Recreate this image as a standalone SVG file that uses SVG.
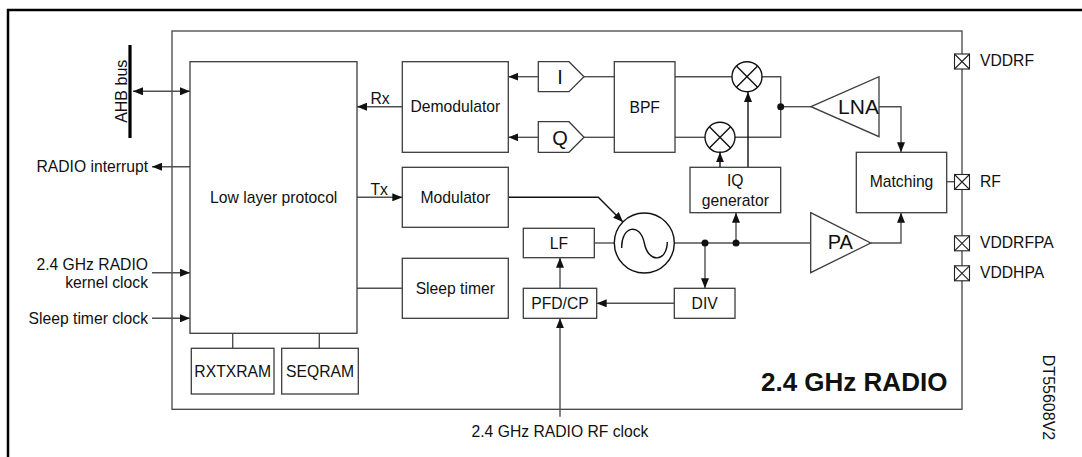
<svg xmlns="http://www.w3.org/2000/svg" width="1082" height="457" viewBox="0 0 1082 457">
<style>
text{font-family:"Liberation Sans",Arial,sans-serif;font-size:15.7px;fill:#111}
.box{fill:#fff;stroke:#3c3c3c;stroke-width:1.3}
.ln{fill:none;stroke:#505050;stroke-width:1.4}
.blk{fill:none;stroke:#111;stroke-width:1.4}
.mid{text-anchor:middle}
.end{text-anchor:end}
.big{font-size:21px}
.pad{fill:#fff;stroke:#222;stroke-width:1.1}
.dot{fill:#111}
</style>
<defs>
<marker id="ah" viewBox="0 0 10 8" refX="10" refY="4" markerWidth="10" markerHeight="8" markerUnits="userSpaceOnUse" orient="auto-start-reverse">
<path d="M0,0 L10,4 L0,8 z" fill="#111"/>
</marker>
<g id="padshape"><rect x="-7.5" y="-7.5" width="15" height="15" class="pad"/><path d="M-7.5,-7.5 L7.5,7.5 M7.5,-7.5 L-7.5,7.5" stroke="#222" stroke-width="1.1"/></g>
<g id="mixshape"><circle r="15" fill="#fff" stroke="#111" stroke-width="1.4"/><path d="M-10.6,-10.6 L10.6,10.6 M10.6,-10.6 L-10.6,10.6" stroke="#111" stroke-width="1.4"/></g>
</defs>
<rect x="0" y="0" width="1082" height="457" fill="#fff"/>
<!-- outer frame -->
<rect x="8" y="10" width="1100" height="500" fill="none" stroke="#000" stroke-width="2.5"/>
<!-- radio block frame -->
<g id="radio">
<rect x="172" y="31" width="790" height="378.3" fill="none" stroke="#444" stroke-width="1.3"/>
<text x="761" y="390.5" style="font-size:26px;font-weight:bold">2.4 GHz RADIO</text>
</g>
<text transform="translate(1043,397.5) rotate(90)" class="mid" style="font-size:16px">DT55608V2</text>

<g id="connectors">
<line x1="133" y1="91.3" x2="190" y2="91.3" class="ln" marker-start="url(#ah)" marker-end="url(#ah)"/>
<line x1="402.3" y1="106.7" x2="357" y2="106.7" class="ln" marker-end="url(#ah)"/>
<line x1="190" y1="166.7" x2="152" y2="166.7" class="ln" marker-end="url(#ah)"/>
<line x1="357" y1="197.3" x2="402.3" y2="197.3" class="ln" marker-end="url(#ah)"/>
<line x1="152" y1="272.7" x2="190" y2="272.7" class="ln" marker-end="url(#ah)"/>
<line x1="152" y1="318.3" x2="190" y2="318.3" class="ln" marker-end="url(#ah)"/>
<line x1="232.7" y1="333.3" x2="232.7" y2="348.3" class="ln"/>
<line x1="319.3" y1="333.3" x2="319.3" y2="348.3" class="ln"/>
<line x1="357" y1="288.3" x2="402.3" y2="288.3" class="ln"/>
<line x1="538.3" y1="76.7" x2="508.3" y2="76.7" class="ln" marker-end="url(#ah)"/>
<line x1="538.3" y1="137.3" x2="508.3" y2="137.3" class="ln" marker-end="url(#ah)"/>
<line x1="584" y1="76.7" x2="614.3" y2="76.7" class="ln"/>
<line x1="584" y1="137.3" x2="614.3" y2="137.3" class="ln"/>
<line x1="675" y1="76.7" x2="732" y2="76.7" class="ln"/>
<line x1="675" y1="137.3" x2="705" y2="137.3" class="ln"/>
<polyline points="762,76.7 780.7,76.7 780.7,137.3 735,137.3" class="ln"/>
<line x1="780.7" y1="106.7" x2="811" y2="106.7" class="ln"/>
<line x1="748" y1="167.3" x2="748" y2="92" class="blk" marker-end="url(#ah)"/>
<line x1="720" y1="167.3" x2="720" y2="152.3" class="blk" marker-end="url(#ah)"/>
<polyline points="879,106.7 901,106.7 901,152.3" class="ln" marker-end="url(#ah)"/>
<polyline points="870.7,243 901,243 901,212.7" class="ln" marker-end="url(#ah)"/>
<line x1="946.7" y1="181.7" x2="954.5" y2="181.7" class="ln"/>
<polyline points="508.3,197.3 598.3,197.3 623,222" class="blk" marker-end="url(#ah)"/>
<line x1="594.3" y1="243" x2="614" y2="243" class="ln"/>
<line x1="674.7" y1="243" x2="810.7" y2="243" class="ln"/>
<line x1="705" y1="243" x2="705" y2="288.3" class="ln" marker-end="url(#ah)"/>
<line x1="736" y1="243" x2="736" y2="212.7" class="ln" marker-end="url(#ah)"/>
<line x1="674.3" y1="303.3" x2="596.7" y2="303.3" class="ln" marker-end="url(#ah)"/>
<line x1="560" y1="288.3" x2="560" y2="257.7" class="ln" marker-end="url(#ah)"/>
<line x1="560" y1="416.7" x2="560" y2="318.3" class="ln" marker-end="url(#ah)"/>
<circle cx="780.7" cy="106.7" r="3.5" class="dot"/>
<circle cx="705" cy="243" r="3.5" class="dot"/>
<circle cx="736" cy="243" r="3.5" class="dot"/>
<text x="370.5" y="104">Rx</text>
<text x="370.5" y="195">Tx</text>
</g>

<g id="ahb">
<line x1="130" y1="45" x2="130" y2="138" stroke="#000" stroke-width="3.2"/>
<text transform="translate(127.3,91.3) rotate(-90)" class="mid" style="font-size:16px">AHB bus</text>
</g>
<g id="lbl-interrupt"><text x="148" y="172" class="end">RADIO interrupt</text></g>
<g id="lbl-kernel"><text x="148" y="269.5" class="end">2.4 GHz RADIO</text><text x="148" y="287.7" class="end">kernel clock</text></g>
<g id="lbl-sleepclk"><text x="148" y="323.5" class="end">Sleep timer clock</text></g>
<g id="lbl-rfclk"><text x="560" y="437" class="mid">2.4 GHz RADIO RF clock</text></g>

<g id="llp"><rect x="190" y="61.7" width="167" height="271.6" class="box"/><text x="273.7" y="203" class="mid">Low layer protocol</text></g>
<g id="rxtxram"><rect x="191.3" y="348.3" width="82.7" height="45.7" class="box"/><text x="232.7" y="376.8" class="mid">RXTXRAM</text></g>
<g id="seqram"><rect x="281.7" y="348.3" width="76.6" height="45.7" class="box"/><text x="320" y="376.8" class="mid">SEQRAM</text></g>
<g id="demod"><rect x="402.3" y="61.7" width="106" height="90.6" class="box"/><text x="455.3" y="112.3" class="mid">Demodulator</text></g>
<g id="mod"><rect x="402.3" y="167.3" width="106" height="60" class="box"/><text x="455.3" y="202.5" class="mid">Modulator</text></g>
<g id="sleeptimer"><rect x="402.3" y="258.3" width="106" height="60" class="box"/><text x="455.3" y="293.5" class="mid">Sleep timer</text></g>
<g id="adc-i"><path d="M538.3,61.7 H569 L584,76.7 L569,91.7 H538.3 Z" class="box"/><text x="560" y="84" class="mid" style="font-size:20px">I</text></g>
<g id="adc-q"><path d="M538.3,121.7 H569 L584,137.3 L569,152.3 H538.3 Z" class="box"/><text x="560" y="144.5" class="mid" style="font-size:20px">Q</text></g>
<g id="bpf"><rect x="614.3" y="61.7" width="60.7" height="90.6" class="box"/><text x="644.7" y="112.5" class="mid">BPF</text></g>
<g id="mixer-i"><use href="#mixshape" x="747" y="76.7"/></g>
<g id="mixer-q"><use href="#mixshape" x="720" y="137.3"/></g>
<g id="iqgen"><rect x="690" y="167.3" width="90.7" height="45.4" class="box"/><text x="735.3" y="185.5" class="mid">IQ</text><text x="735.3" y="205.5" class="mid">generator</text></g>
<g id="lna"><path d="M811,106.7 L879,76.7 L879,136.7 Z" class="box"/><text x="858.5" y="113.5" class="mid big">LNA</text></g>
<g id="matching"><rect x="856.3" y="152.3" width="90.4" height="60.4" class="box"/><text x="901.5" y="187" class="mid">Matching</text></g>
<g id="pa"><path d="M810.7,212.7 L870.7,243 L810.7,272.7 Z" class="box"/><text x="840.3" y="249.3" class="mid" style="font-size:20px">PA</text></g>
<g id="osc"><circle cx="644.3" cy="243" r="30" fill="#fff" stroke="#111" stroke-width="1.4"/><path d="M621.7,248 C621,226 640,222 644.3,243 C648.5,264 667,262 667.3,242" fill="none" stroke="#111" stroke-width="1.4"/></g>
<g id="lf"><rect x="523.3" y="228.3" width="71" height="29.4" class="box"/><text x="559" y="248.5" class="mid">LF</text></g>
<g id="pfdcp"><rect x="523.3" y="288.3" width="73.4" height="30" class="box"/><text x="560" y="309" class="mid">PFD/CP</text></g>
<g id="div"><rect x="674.3" y="288.3" width="60.7" height="30" class="box"/><text x="704.7" y="309" class="mid">DIV</text></g>

<g id="pad-vddrf"><use href="#padshape" x="962" y="61.5"/><text x="980" y="66">VDDRF</text></g>
<g id="pad-rf"><use href="#padshape" x="962" y="182"/><text x="980" y="187.3">RF</text></g>
<g id="pad-vddrfpa"><use href="#padshape" x="962" y="243.3"/><text x="980" y="248.3">VDDRFPA</text></g>
<g id="pad-vddhpa"><use href="#padshape" x="962" y="273.3"/><text x="980" y="277.7">VDDHPA</text></g>
</svg>
